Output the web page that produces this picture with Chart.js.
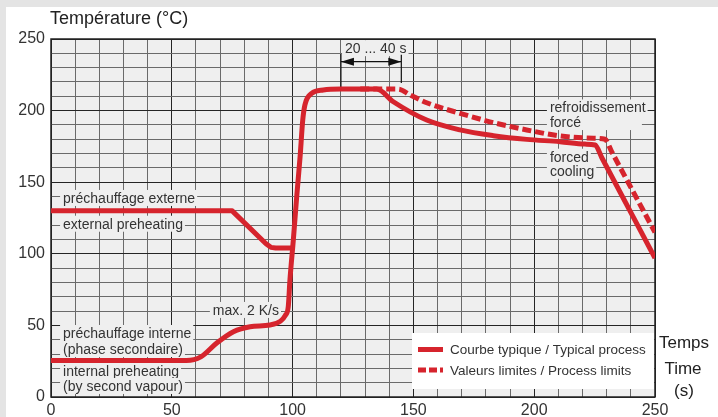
<!DOCTYPE html>
<html>
<head>
<meta charset="utf-8">
<script src="https://cdn.jsdelivr.net/npm/chart.js@4.4.1/dist/chart.umd.min.js"></script>
<style>
html, body { margin: 0; padding: 0; width: 718px; height: 417px; overflow: hidden; background: #e4e4e4; }
#panel { position: absolute; left: 6px; top: 7px; right: 0; bottom: 0; background: #fff; }
canvas { position: absolute; left: 0; top: 0; }
</style>
</head>
<body>
<div id="panel"></div>
<canvas id="chartId" width="718" height="417"></canvas>
<script>
// typical process (time s / temperature °C)
const typicalTime = [0, 56, 62, 68.6, 75.5, 82.4, 90.6, 95, 97, 98.2, 98.9, 100.3, 101.7, 103.1, 104.2, 105.1, 107.9, 112.7, 120, 134.8, 141.7, 155.5, 169.3, 183.1, 196.9, 210.7, 221, 225.2, 228, 250];
const typicalTemp = [25.5, 25.5, 28, 37.7, 45.6, 49.1, 50.3, 53, 57, 63, 81.7, 109.6, 139.9, 167.8, 193.4, 204, 212, 214.4, 215, 215, 206.2, 193.4, 186.5, 182.5, 179.9, 178.3, 176.6, 176, 167.1, 97];

// external preheating branch
const externalTime = [0, 75, 89, 91, 93, 99.5];
const externalTemp = [130, 130, 107, 104.5, 104, 104];

// process limits (dashed)
const limitTime = [128, 143.8, 148.6, 155.5, 169.3, 183.1, 196.9, 210.7, 224.5, 229.3, 232, 250];
const limitTemp = [215, 215, 210.9, 205.5, 198.1, 191.6, 186.5, 182.3, 180.7, 180, 171.5, 115];

const xTicks = [0, 50, 100, 150, 200, 250];
const yTicks = [0, 50, 100, 150, 200, 250];

const RED = '#d6242d';
const PLOT_BG = '#efefef';
const TEXT = '#333';
const FONT = '"Liberation Sans", Arial, sans-serif';

// text notes inside the plot (x = left edge, y = middle, in axis units)
const notes = [
  { text: 'préchauffage externe', x: 5, y: 139 },
  { text: 'external preheating', x: 5, y: 121 },
  { text: 'préchauffage interne', x: 5, y: 44.7 },
  { text: '(phase secondaire)', x: 5, y: 33.5 },
  { text: 'internal preheating', x: 5, y: 18.4 },
  { text: '(by second vapour)', x: 5, y: 7.7 },
  { text: 'max. 2 K/s', x: 67, y: 60.8 },
  { text: '20 ... 40 s', x: 121.7, y: 243.6 },
  { text: 'refroidissement', x: 206.5, y: 202.2 },
  { text: 'forcé', x: 206.5, y: 192, w: 95 },
  { text: 'forced', x: 206.5, y: 167.8 },
  { text: 'cooling', x: 206.5, y: 158 }
];

function pairs(xs, ys) {
  return xs.map((x, i) => ({ x: x, y: ys[i] }));
}

function gridColor(c) {
  return c.tick && c.tick.value % 50 === 0 ? '#252525' : '#6a6a6a';
}

function arrowHead(ctx, x, y, dir) {
  ctx.beginPath();
  ctx.moveTo(x, y);
  ctx.lineTo(x - dir * 13, y - 4);
  ctx.lineTo(x - dir * 13, y + 4);
  ctx.closePath();
  ctx.fill();
}

const decor = {
  id: 'decor',
  beforeDraw(chart) {
    const a = chart.chartArea, ctx = chart.ctx;
    ctx.save();
    ctx.fillStyle = PLOT_BG;
    ctx.fillRect(a.left, a.top, a.right - a.left, a.bottom - a.top);
    ctx.restore();
  },
  beforeDatasetsDraw(chart) {
    const a = chart.chartArea, ctx = chart.ctx;
    const sx = chart.scales.x, sy = chart.scales.y;
    ctx.save();
    ctx.strokeStyle = '#222';
    ctx.lineWidth = 1.5;
    ctx.strokeRect(a.left, a.top, a.right - a.left, a.bottom - a.top);

    ctx.font = '14px ' + FONT;
    ctx.textBaseline = 'middle';
    notes.forEach(n => {
      const px = sx.getPixelForValue(n.x), py = sy.getPixelForValue(n.y);
      const w = Math.max(ctx.measureText(n.text).width + 5, n.w || 0);
      ctx.fillStyle = PLOT_BG;
      ctx.fillRect(px - 3, py - 8, w, 16);
      ctx.fillStyle = TEXT;
      ctx.fillText(n.text, px, py + 1);
    });

    // 20 ... 40 s dimension
    const x1 = sx.getPixelForValue(120), x2 = sx.getPixelForValue(145);
    const ya = sy.getPixelForValue(234.2);
    ctx.strokeStyle = '#111';
    ctx.fillStyle = '#111';
    ctx.lineWidth = 1.2;
    ctx.beginPath();
    ctx.moveTo(x1, sy.getPixelForValue(239.5));
    ctx.lineTo(x1, sy.getPixelForValue(214));
    ctx.moveTo(x2, sy.getPixelForValue(239));
    ctx.lineTo(x2, sy.getPixelForValue(219.3));
    ctx.moveTo(x1, ya);
    ctx.lineTo(x2, ya);
    ctx.stroke();
    arrowHead(ctx, x1, ya, -1);
    arrowHead(ctx, x2, ya, 1);
    ctx.restore();
  },
  afterDatasetsDraw(chart) {
    const a = chart.chartArea, ctx = chart.ctx;
    ctx.save();
    // legend box
    const lx = a.right - 243, ly = a.bottom - 64;
    ctx.fillStyle = '#fff';
    ctx.fillRect(lx, ly, 242, 56);
    ctx.font = '13.5px ' + FONT;
    ctx.textBaseline = 'middle';
    let row = 0;
    chart.data.datasets.forEach(ds => {
      if (!ds.label) return;
      const y = ly + 16.5 + row * 20.5;
      ctx.strokeStyle = ds.borderColor;
      ctx.lineWidth = 5;
      ctx.setLineDash(ds.borderDash ? [8, 3] : []);
      ctx.beginPath();
      ctx.moveTo(lx + 6, y);
      ctx.lineTo(lx + 31, y);
      ctx.stroke();
      ctx.setLineDash([]);
      ctx.fillStyle = TEXT;
      ctx.fillText(ds.label, lx + 38, y + 1);
      row++;
    });

    // axis titles
    ctx.fillStyle = '#222';
    ctx.font = '18px ' + FONT;
    ctx.textAlign = 'left';
    ctx.fillText('Température (°C)', a.left - 1, 19);
    ctx.font = '17px ' + FONT;
    ctx.textAlign = 'center';
    ctx.fillText('Temps', 684, 343);
    ctx.fillText('Time', 683, 369);
    ctx.fillText('(s)', 684, 391);
    ctx.restore();
  }
};

const ctx = document.getElementById('chartId').getContext('2d');
const chart = new Chart(ctx, {
  type: 'line',
  data: {
    datasets: [
      {
        label: 'Courbe typique / Typical process',
        data: pairs(typicalTime, typicalTemp),
        borderColor: RED,
        borderWidth: 5,
        cubicInterpolationMode: 'monotone',
        pointRadius: 0,
        clip: 0
      },
      {
        label: '',
        data: pairs(externalTime, externalTemp),
        borderColor: RED,
        borderWidth: 5,
        borderJoinStyle: 'round',
        tension: 0,
        pointRadius: 0,
        clip: 0
      },
      {
        label: 'Valeurs limites / Process limits',
        data: pairs(limitTime, limitTemp),
        borderColor: RED,
        borderWidth: 5,
        borderDash: [9, 4],
        cubicInterpolationMode: 'monotone',
        pointRadius: 0,
        clip: 0
      }
    ]
  },
  options: {
    responsive: false,
    animation: false,
    layout: { padding: { top: 39, right: 63, left: 0, bottom: 0 } },
    plugins: { legend: { display: false }, tooltip: { enabled: false } },
    scales: {
      x: {
        type: 'linear',
        min: 0,
        max: 250,
        afterFit(s) { s.height = 20; },
        ticks: {
          stepSize: 10,
          autoSkip: false,
          maxRotation: 0,
          padding: 4,
          color: TEXT,
          font: { family: FONT, size: 16 },
          callback: v => xTicks.includes(v) ? v : ''
        },
        grid: { color: gridColor, drawTicks: false },
        border: { display: false }
      },
      y: {
        min: 0,
        max: 250,
        afterFit(s) { s.width = 51; },
        ticks: {
          stepSize: 10,
          autoSkip: false,
          padding: 6,
          color: TEXT,
          font: { family: FONT, size: 16 },
          callback: v => yTicks.includes(v) ? v : ''
        },
        grid: { color: gridColor, drawTicks: false },
        border: { display: false }
      }
    }
  },
  plugins: [decor]
});
</script>
</body>
</html>
